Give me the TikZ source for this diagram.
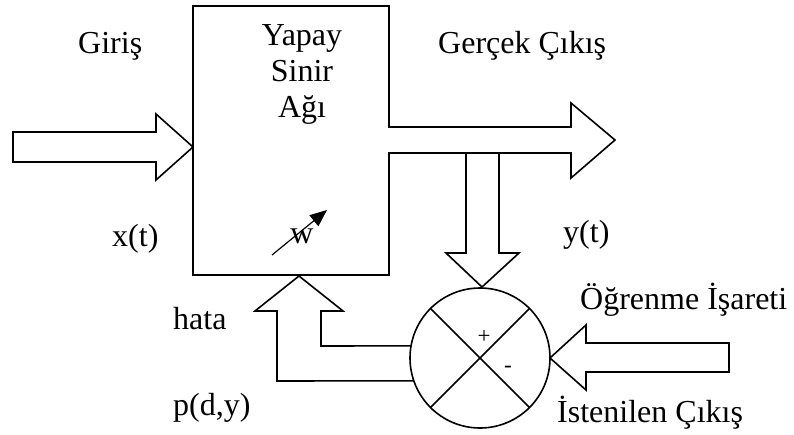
\documentclass[tikz,border=0pt]{standalone}
\usepackage{fontspec}
\setmainfont{Liberation Serif}
\usetikzlibrary{arrows.meta}
\begin{document}
\begin{tikzpicture}[x=1pt,y=-1pt,
  outline/.style={draw=black,line width=1.6pt,line join=miter,fill=white},
  lbl/.style={inner sep=0pt,font=\fontsize{32}{38}\selectfont},
  sign/.style={inner sep=0pt,font=\fontsize{23}{25}\selectfont}]
\useasboundingbox (0,0) rectangle (794,434);

% summing junction (placed first so its border points can be used)
\node[circle,minimum size=140pt,inner sep=0pt,outer sep=0pt] (sum) at (480,358) {};

% network box joined with the output arrow
\draw[outline] (389,127) -- (389,6) -- (193,6) -- (193,275) -- (389,275) -- (389,153)
  -- (571,153) -- (571,178) -- (615,140) -- (571,103) -- (571,127) -- cycle;
\draw[line width=1.6pt] (389,127) -- (571,127);

% input arrow
\draw[outline] (13,132) -- (156,132) -- (156,114) -- (193,147) -- (156,180)
  -- (156,162) -- (13,162) -- cycle;

% output sample fed down into the junction
\draw[outline] (466,154) -- (466,253) -- (446,253) -- (482,287) -- (519,253)
  -- (499,253) -- (499,154);

% desired output into the junction
\draw[outline] (729,343) -- (586,343) -- (586,325) -- (sum.east) -- (586,390)
  -- (586,372) -- (729,372) -- cycle;

% error fed back to the network
\draw[outline] (sum.170) -- (321,346) -- (321,311) -- (343,311) -- (299,276)
  -- (255,311) -- (277,311) -- (277,381) -- (sum.199);

% junction outline and its cross
\draw[line width=1.6pt] (sum.center) circle[radius=70pt];
\draw[line width=1.6pt] (sum.45) -- (sum.225) (sum.135) -- (sum.315);
\node[sign] (plus) at (484,337) {+};
\node[sign] (minus) at (508,369) {-};

% adjustable weights
\coordinate (w0) at (272,255);
\coordinate (w1) at (327,210);
\node[lbl,anchor=base] (w) at (302,243) {w};
\draw[line width=1.2pt,-{Triangle[length=17pt,width=14pt]}] (w0) -- (w1);

% labels
\node[lbl,anchor=base west] (giris) at (78,53) {Giriş};
\node[lbl,anchor=base] (l1) at (302,45) {Yapay};
\node[lbl,anchor=base] (l2) at (302,81) {Sinir};
\node[lbl,anchor=base] (l3) at (302,117) {Ağı};
\node[lbl,anchor=base west] (gercek) at (438,53) {Gerçek Çıkış};
\node[lbl,anchor=base west] (xt) at (112,246) {x(t)};
\node[lbl,anchor=base west] (yt) at (563,242) {y(t)};
\node[lbl,anchor=base west] (hata) at (173,329) {hata};
\node[lbl,anchor=base west] (pdy) at (173,415) {p(d,y)};
\node[lbl,anchor=base west] (ogr) at (580,309) {Öğrenme İşareti};
\node[lbl,anchor=base west] (ist) at (557,422) {İstenilen Çıkış};
\end{tikzpicture}
\end{document}
